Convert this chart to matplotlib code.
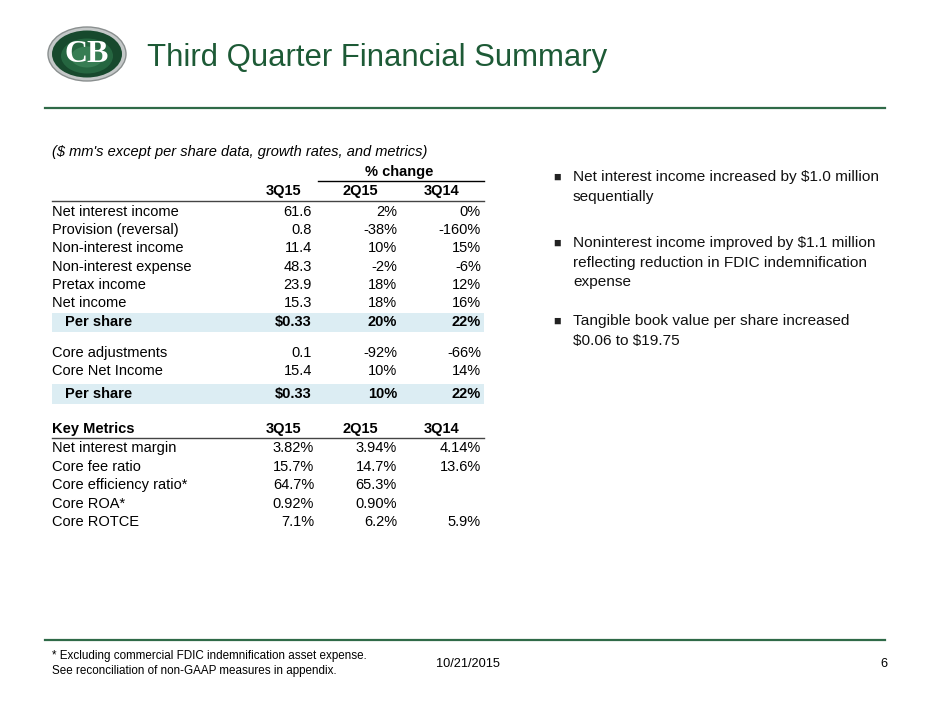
import matplotlib
matplotlib.use("Agg")
import matplotlib.pyplot as plt
from matplotlib.patches import Ellipse, Rectangle

plt.rcParams['font.family'] = ['Liberation Sans', 'DejaVu Sans']
plt.rcParams['text.parse_math'] = False

# ---------------- data ----------------
title = "Third Quarter Financial Summary"
subtitle = "($ mm's except per share data, growth rates, and metrics)"
col_headers = ["3Q15", "2Q15", "3Q14"]
group_header = "% change"

row_labels = ["Net interest income", "Provision (reversal)", "Non-interest income",
              "Non-interest expense", "Pretax income", "Net income", "Per share"]
col_3q15 = ["61.6", "0.8", "11.4", "48.3", "23.9", "15.3", "$0.33"]
col_2q15 = ["2%", "-38%", "10%", "-2%", "18%", "18%", "20%"]
col_3q14 = ["0%", "-160%", "15%", "-6%", "12%", "16%", "22%"]

core_labels = ["Core adjustments", "Core Net Income", "Per share"]
core_3q15 = ["0.1", "15.4", "$0.33"]
core_2q15 = ["-92%", "10%", "10%"]
core_3q14 = ["-66%", "14%", "22%"]

metrics_title = "Key Metrics"
metric_labels = ["Net interest margin", "Core fee ratio", "Core efficiency ratio*",
                 "Core ROA*", "Core ROTCE"]
metric_3q15 = ["3.82%", "15.7%", "64.7%", "0.92%", "7.1%"]
metric_2q15 = ["3.94%", "14.7%", "65.3%", "0.90%", "6.2%"]
metric_3q14 = ["4.14%", "13.6%", "", "", "5.9%"]

bullets = [
    ["Net interest income increased by $1.0 million", "sequentially"],
    ["Noninterest income improved by $1.1 million",
     "reflecting reduction in FDIC indemnification", "expense"],
    ["Tangible book value per share increased", "$0.06 to $19.75"],
]
footnote = ["* Excluding commercial FDIC indemnification asset expense.",
            "See reconciliation of non-GAAP measures in appendix."]
date_text = "10/21/2015"
page_num = "6"

# ---------------- figure ----------------
W, H = 940, 705
fig = plt.figure(figsize=(W / 100, H / 100), dpi=100)
ax = fig.add_axes([0, 0, 1, 1])
ax.set_xlim(0, W)
ax.set_ylim(H, 0)
ax.axis('off')

GREEN = '#1d5a36'
LINE_GREEN = '#2f6a48'
BAND = '#dcedf3'
TXT = '#000000'
FS = 10.5

# logo
ax.add_patch(Ellipse((87, 54), 78, 54, facecolor='#c4c8c8', edgecolor='#8a8f8f', lw=1.0, zorder=2))
ax.add_patch(Ellipse((87, 54), 70, 47, facecolor='#17492d', edgecolor='none', zorder=3))
ax.add_patch(Ellipse((87, 56), 52, 35, facecolor='#2f7a4e', edgecolor='none', alpha=0.6, zorder=3))
ax.add_patch(Ellipse((87, 57), 32, 21, facecolor='#4a9466', edgecolor='none', alpha=0.5, zorder=3))
ax.text(87, 55, "CB", fontsize=23, fontweight='bold', family=['Liberation Serif', 'DejaVu Serif'],
        color='white', ha='center', va='center', zorder=4)

# title
ax.text(147, 58, title, fontsize=22.4, color=GREEN, ha='left', va='center')
ax.plot([45, 885], [108, 108], color=LINE_GREEN, lw=1.6)
ax.plot([45, 885], [640, 640], color=LINE_GREEN, lw=1.6)

# table geometry
x_label = 52
x_right = [312, 397, 481]
x_head = [284, 360, 442]

ax.text(x_label, 152, subtitle, fontsize=FS, style='italic', ha='left', va='center', color=TXT)
ax.text(399, 172, group_header, fontsize=FS, fontweight='bold', ha='center', va='center')
ax.plot([318, 484], [181, 181], color='black', lw=1.0)
for xh, h in zip(x_head, col_headers):
    ax.text(xh, 191, h, fontsize=FS, fontweight='bold', ha='center', va='center')
ax.plot([52, 484], [201, 201], color='#444444', lw=1.0)

row_y = [212, 230, 248, 267, 285, 303, 322]
for i, (lab, a, b, c) in enumerate(zip(row_labels, col_3q15, col_2q15, col_3q14)):
    y = row_y[i]
    bold = (i == len(row_labels) - 1)
    if bold:
        ax.add_patch(Rectangle((52, y - 9.5), 432, 19, facecolor=BAND, edgecolor='none', zorder=0))
    ax.text(x_label + (13 if bold else 0), y, lab, fontsize=FS, ha='left', va='center',
            fontweight='bold' if bold else 'normal')
    for xr, v in zip(x_right, [a, b, c]):
        ax.text(xr, y, v, fontsize=FS, ha='right', va='center', fontweight='bold' if bold else 'normal')

core_y = [353, 371, 394]
for i, (lab, a, b, c) in enumerate(zip(core_labels, core_3q15, core_2q15, core_3q14)):
    y = core_y[i]
    bold = (i == len(core_labels) - 1)
    if bold:
        ax.add_patch(Rectangle((52, y - 10), 432, 20, facecolor=BAND, edgecolor='none', zorder=0))
    ax.text(x_label + (13 if bold else 0), y, lab, fontsize=FS, ha='left', va='center',
            fontweight='bold' if bold else 'normal')
    for xr, v in zip(x_right, [a, b, c]):
        ax.text(xr, y, v, fontsize=FS, ha='right', va='center', fontweight='bold' if bold else 'normal')

# key metrics
ax.text(x_label, 429, metrics_title, fontsize=FS, fontweight='bold', ha='left', va='center')
for xh, h in zip(x_head, col_headers):
    ax.text(xh, 429, h, fontsize=FS, fontweight='bold', ha='center', va='center')
ax.plot([52, 484], [438, 438], color='#444444', lw=1.0)
met_y = [448, 467, 485, 504, 522]
met_right = [314, 397, 481]
for i, (lab, a, b, c) in enumerate(zip(metric_labels, metric_3q15, metric_2q15, metric_3q14)):
    y = met_y[i]
    ax.text(x_label, y, lab, fontsize=FS, ha='left', va='center')
    for xr, v in zip(met_right, [a, b, c]):
        if v:
            ax.text(xr, y, v, fontsize=FS, ha='right', va='center')

# bullets
bullet_y = [177, 243, 321]
for by, lines in zip(bullet_y, bullets):
    ax.text(553, by + 1, "\u25a0", fontsize=9, ha='left', va='center', color='#222222')
    for j, line in enumerate(lines):
        ax.text(573, by + j * 19.5, line, fontsize=11.1, ha='left', va='center', color='#111111')

# footer
ax.text(52, 656, footnote[0], fontsize=8.4, ha='left', va='center')
ax.text(52, 671, footnote[1], fontsize=8.4, ha='left', va='center')
ax.text(436, 664, date_text, fontsize=9.2, ha='left', va='center')
ax.text(887, 664, page_num, fontsize=9.2, ha='right', va='center')

fig.savefig("out.png", dpi=100, facecolor='white')
